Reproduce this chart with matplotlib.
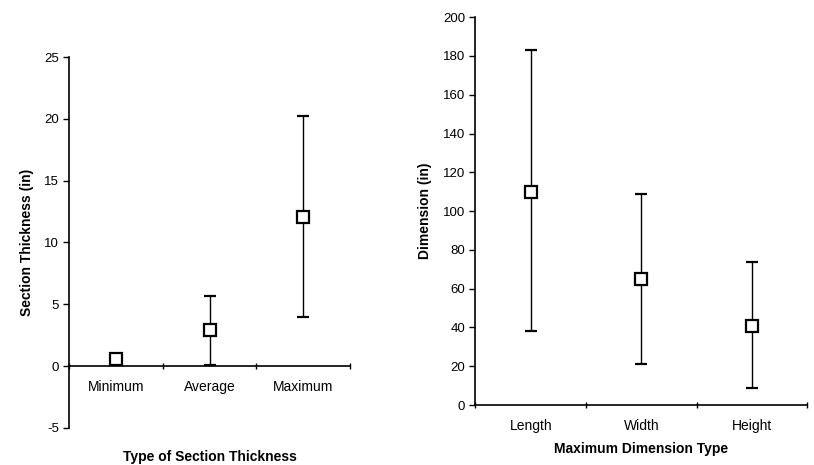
import matplotlib
matplotlib.use('AGG')
import matplotlib.pyplot as plt

plt.rcParams['font.family'] = ['Liberation Sans', 'DejaVu Sans']
plt.rcParams['axes.unicode_minus'] = False

# left panel: section thickness
thick_cats = ['Minimum', 'Average', 'Maximum']
thick_mean = [0.6, 2.9, 12.1]
thick_low = [0.35, 0.1, 4.0]
thick_high = [0.85, 5.7, 20.2]

# right panel: maximum dimension
dim_cats = ['Length', 'Width', 'Height']
dim_mean = [110, 65, 41]
dim_low = [38, 21, 9]
dim_high = [183, 109, 74]

fig = plt.figure(figsize=(8.14, 4.65), dpi=100)
ax1 = fig.add_axes([0.085, 0.08, 0.345, 0.797])
ax2 = fig.add_axes([0.584, 0.129, 0.408, 0.834])


def draw(ax, cats, mean, low, high, ylim, yticks, ylabel, xlabel):
    x = list(range(1, len(cats) + 1))
    err = [[m - l for m, l in zip(mean, low)], [h - m for m, h in zip(mean, high)]]
    ax.errorbar(x, mean, yerr=err, fmt='s', mfc='white', mec='black', mew=1.6,
                ms=8, ecolor='black', elinewidth=1, capsize=4, capthick=2.2, zorder=3)
    ax.set_xlim(0.5, len(cats) + 0.5)
    ax.set_ylim(*ylim)
    ax.set_yticks(yticks)
    ax.set_xticks(x)
    ax.set_xticklabels(cats)
    ax.set_xticks([i + 0.5 for i in range(len(cats) + 1)], minor=True)
    ax.tick_params(axis='x', which='major', length=0, pad=10, labelsize=10)
    ax.tick_params(axis='x', which='minor', length=5, direction='inout', width=1)
    ax.tick_params(axis='y', length=4, direction='out', width=1, labelsize=9.5)
    for s in ['top', 'right']:
        ax.spines[s].set_visible(False)
    ax.spines['left'].set_linewidth(1.2)
    ax.spines['bottom'].set_linewidth(1.2)
    ax.spines['bottom'].set_position(('data', 0))
    ax.set_ylabel(ylabel, fontsize=10, fontweight='bold')
    ax.set_xlabel(xlabel, fontsize=10, fontweight='bold')


draw(ax1, thick_cats, thick_mean, thick_low, thick_high, (-5, 25),
     [-5, 0, 5, 10, 15, 20, 25], 'Section Thickness (in)', 'Type of Section Thickness')
ax1.xaxis.set_label_coords(0.5, -0.06)
ax1.yaxis.set_label_coords(-0.125, 0.5)

draw(ax2, dim_cats, dim_mean, dim_low, dim_high, (0, 200),
     list(range(0, 201, 20)), 'Dimension (in)', 'Maximum Dimension Type')
ax2.xaxis.set_label_coords(0.5, -0.095)
ax2.yaxis.set_label_coords(-0.13, 0.5)

fig.savefig('out.png', dpi=100)
plt.close(fig)
